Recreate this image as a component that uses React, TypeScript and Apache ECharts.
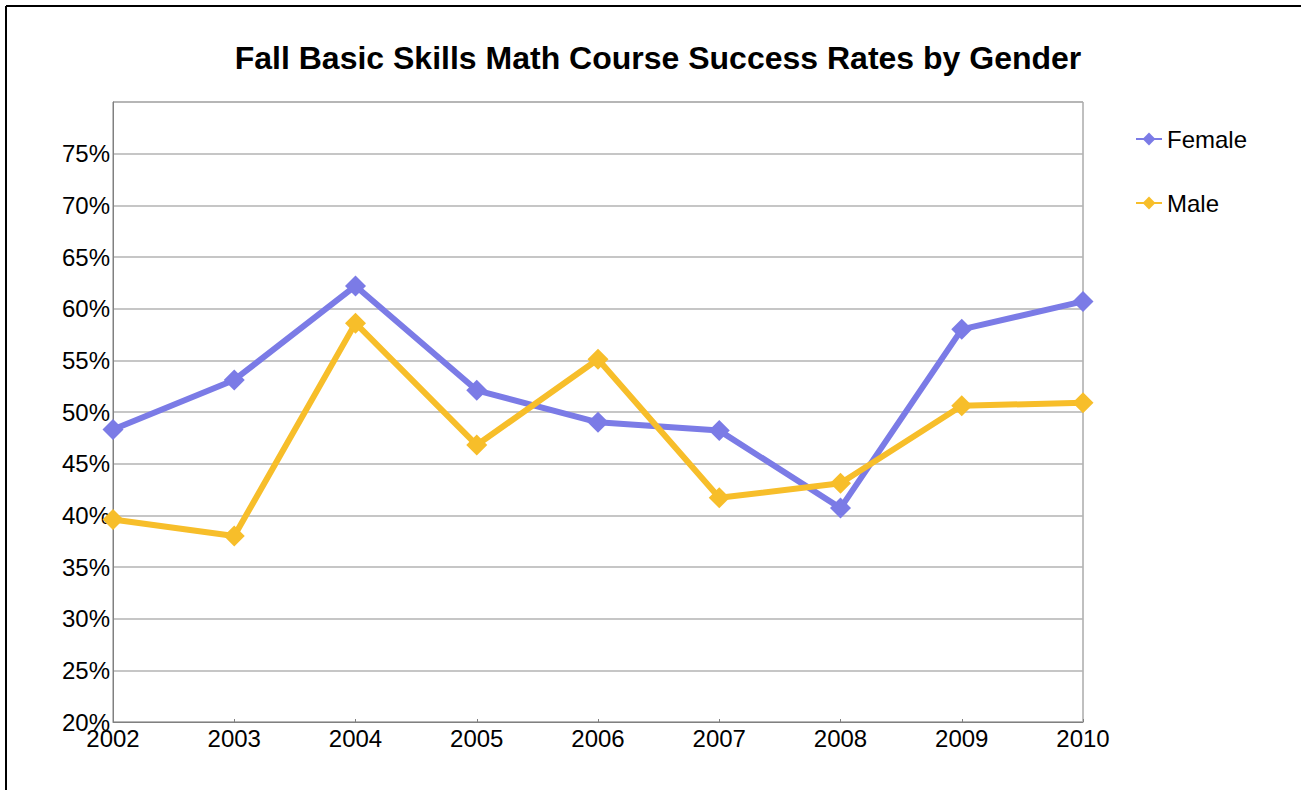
import React, { useEffect, useRef } from "react";
import * as echarts from "echarts";

const years = ["2002", "2003", "2004", "2005", "2006", "2007", "2008", "2009", "2010"];
const female = [48.3, 53.1, 62.2, 52.1, 49.0, 48.2, 40.7, 58.0, 60.7];
const male = [39.6, 38.0, 58.6, 46.8, 55.1, 41.7, 43.1, 50.6, 50.9];
const titleText = "Fall Basic Skills Math Course Success Rates by Gender";

export default function App() {
  const ref = useRef<HTMLDivElement>(null);
  useEffect(() => {
    if (!ref.current) return;
    const chart = echarts.init(ref.current, undefined, { renderer: "svg" });
    const font = "Liberation Sans, Arial, sans-serif";
    chart.setOption({
      animation: false,
      backgroundColor: "#ffffff",
      textStyle: { fontFamily: font },
      title: {
        text: titleText,
        left: 653,
        textAlign: "center",
        top: 37,
        textStyle: { fontSize: 32, fontWeight: "bold", color: "#000", fontFamily: font },
      },
      legend: {
        orient: "vertical",
        left: 1130,
        top: 122,
        itemGap: 40,
        itemWidth: 26,
        itemHeight: 16,
        textStyle: { fontSize: 24, color: "#000", fontFamily: font },
        data: ["Female", "Male"],
      },
      graphic: [
        { type: "line", shape: { x1: 6, y1: 6, x2: 1301, y2: 6 }, style: { stroke: "#000", lineWidth: 2 } },
        { type: "line", shape: { x1: 6, y1: 6, x2: 6, y2: 790 }, style: { stroke: "#000", lineWidth: 2 } },
      ],
      grid: {
        left: 113,
        right: 218,
        top: 102,
        bottom: 68,
        show: true,
        borderColor: "#808080",
        borderWidth: 1,
        containLabel: false,
      },
      xAxis: {
        type: "category",
        data: years,
        boundaryGap: false,
        axisLine: { lineStyle: { color: "#808080", width: 1 } },
        axisTick: { show: true, inside: true, length: 3, lineStyle: { color: "#808080" } },
        axisLabel: { fontSize: 24, color: "#000", margin: 4, fontFamily: font },
        splitLine: { show: false },
      },
      yAxis: {
        type: "value",
        min: 20,
        max: 80,
        interval: 5,
        axisLine: { show: true, lineStyle: { color: "#808080", width: 1 } },
        axisTick: { show: false },
        axisLabel: {
          fontSize: 24,
          color: "#000",
          margin: 3,
          showMaxLabel: false,
          formatter: (v: number) => (v >= 80 ? "" : v + "%"),
          fontFamily: font,
        },
        splitLine: { show: true, lineStyle: { color: "#b3b3b3", width: 1.5 } },
      },
      series: [
        {
          name: "Female",
          type: "line",
          data: female,
          symbol: "diamond",
          symbolSize: 21,
          lineStyle: { width: 6, color: "#7b7be6" },
          itemStyle: { color: "#7b7be6" },
        },
        {
          name: "Male",
          type: "line",
          data: male,
          symbol: "diamond",
          symbolSize: 21,
          lineStyle: { width: 6, color: "#f7be2a" },
          itemStyle: { color: "#f7be2a" },
        },
      ],
    });
    return () => chart.dispose();
  }, []);
  return (
    <div
      ref={ref}
      style={{ position: "fixed", left: 0, top: 0, width: 1301, height: 790, background: "#fff" }}
    />
  );
}
